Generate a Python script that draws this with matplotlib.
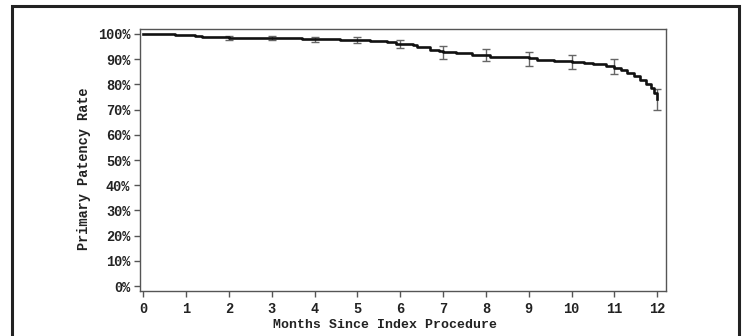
"""Kaplan-Meier primary patency curve with error bars at monthly intervals."""
import matplotlib.pyplot as plt
from matplotlib.patches import Rectangle
from matplotlib.ticker import PercentFormatter

# step curve (months, patency %)
months = [0.0, 0.74, 1.2, 1.37, 2.0, 3.0, 3.7, 4.0, 4.6, 5.0, 5.3, 5.5, 5.7,
          5.9, 6.0, 6.3, 6.4, 6.7, 6.9, 7.0, 7.3, 7.67, 8.0, 8.1, 8.8, 9.0,
          9.2, 9.6, 10.0, 10.3, 10.5, 10.8, 11.0, 11.15, 11.3, 11.45, 11.6,
          11.75, 11.85, 11.92, 12.0]
patency = [99.9, 99.5, 99.3, 98.6, 98.5, 98.5, 98.0, 97.9, 97.7, 97.5, 97.2,
           97.0, 96.6, 96.1, 95.9, 95.4, 94.6, 93.6, 93.1, 92.9, 92.5, 91.7,
           91.6, 90.9, 90.7, 90.3, 89.6, 89.1, 88.7, 88.4, 88.0, 87.4, 86.5,
           85.6, 84.3, 83.2, 81.7, 80.0, 78.5, 76.5, 74.1]

# error bars at each month (center, lower, upper)
eb_months = [2, 3, 4, 5, 6, 7, 8, 9, 10, 11, 12]
eb_center = [98.5, 98.5, 97.9, 97.5, 95.9, 92.9, 91.6, 90.3, 88.7, 86.5, 74.1]
eb_low = [97.6, 97.6, 96.8, 96.3, 94.2, 90.0, 89.1, 87.3, 85.9, 83.9, 69.8]
eb_high = [99.3, 99.3, 98.9, 98.6, 97.5, 95.1, 94.0, 92.6, 91.6, 89.9, 78.1]

xticks = list(range(13))
yticks = list(range(0, 101, 10))

FONT = "Liberation Mono"

fig = plt.figure(figsize=(7.44, 3.36), dpi=100)
ax = fig.add_axes([140 / 744, 1 - 291 / 336, (665.7 - 140) / 744, (291 - 29) / 336])

ax.step(months, patency, where="post", color="#111111", linewidth=1.9, zorder=3)
yerr = [[c - l for c, l in zip(eb_center, eb_low)],
        [h - c for c, h in zip(eb_center, eb_high)]]
ax.errorbar(eb_months, eb_center, yerr=yerr, fmt="none", ecolor="#666666",
            elinewidth=1.0, capsize=3.2, capthick=1.0, zorder=2)

ax.set_xlim(-0.08, 12.2)
ax.set_ylim(-1.9, 101.9)
ax.set_xticks(xticks)
ax.set_yticks(yticks)
ax.yaxis.set_major_formatter(PercentFormatter(decimals=0))
for lab in ax.get_xticklabels() + ax.get_yticklabels():
    lab.set_fontfamily(FONT)
    lab.set_fontweight("bold")
    lab.set_fontsize(9.8)
    lab.set_color("#222222")
ax.tick_params(axis="both", direction="out", length=4, width=1, color="#555555")
ax.tick_params(axis="x", pad=4)
ax.tick_params(axis="y", pad=3)
for s in ax.spines.values():
    s.set_color("#555555")
    s.set_linewidth(1.0)

ax.set_xlabel("Months Since Index Procedure", fontfamily=FONT, fontweight="bold",
              fontsize=9.5, color="#222222")
ax.set_ylabel("Primary Patency Rate", fontfamily=FONT, fontweight="bold",
              fontsize=9.8, color="#222222")
ax.xaxis.set_label_coords(0.466, -0.108)
ax.yaxis.set_label_coords(-0.093, 0.466)

# outer black frame (bottom edge cut off)
fig.patches.append(Rectangle((11.5 / 744, -0.05), (739 - 11.5) / 744, 1 - 5.5 / 336 + 0.05,
                             transform=fig.transFigure, fill=False,
                             edgecolor="#222222", linewidth=2.2))

fig.savefig("out.png", dpi=100)
